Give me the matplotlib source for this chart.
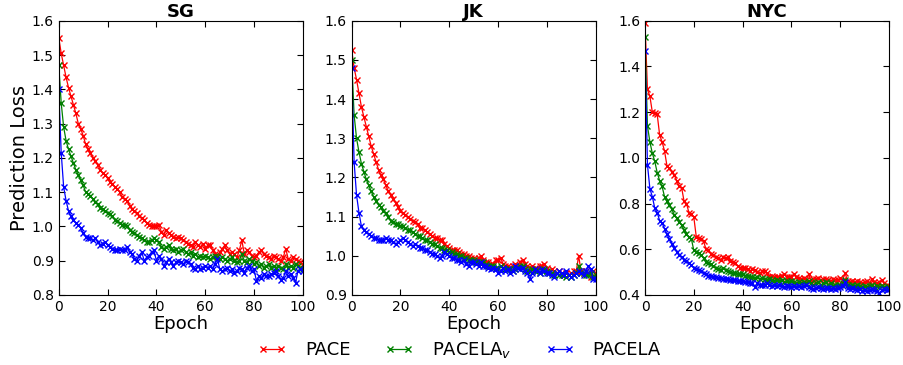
import matplotlib
matplotlib.use("Agg")
import matplotlib.pyplot as plt
import numpy as np

epochs = np.arange(101)

sg_pace = [1.55, 1.505, 1.47, 1.435, 1.405, 1.38, 1.355, 1.33, 1.30, 1.285,
           1.265, 1.24, 1.225, 1.215, 1.20, 1.19, 1.18, 1.165, 1.155, 1.15,
           1.14, 1.13, 1.125, 1.115, 1.11, 1.10, 1.085, 1.08, 1.075, 1.06,
           1.05, 1.045, 1.04, 1.03, 1.025, 1.02, 1.01, 1.005, 1.0, 1.0,
           1.0, 1.005, 0.985, 0.975, 0.99, 0.98, 0.975, 0.97, 0.965, 0.97,
           0.965, 0.96, 0.955, 0.95, 0.945, 0.94, 0.955, 0.945, 0.94, 0.95,
           0.935, 0.945, 0.945, 0.93, 0.92, 0.915, 0.925, 0.935, 0.945, 0.93,
           0.92, 0.925, 0.92, 0.91, 0.93, 0.96, 0.92, 0.93, 0.925, 0.915,
           0.91, 0.915, 0.925, 0.93, 0.92, 0.915, 0.91, 0.905, 0.915, 0.91,
           0.905, 0.90, 0.91, 0.935, 0.905, 0.90, 0.91, 0.905, 0.90, 0.895,
           0.89]
sg_pacela_v = [1.47, 1.36, 1.29, 1.25, 1.225, 1.205, 1.185, 1.165, 1.15, 1.135,
               1.12, 1.10, 1.095, 1.09, 1.08, 1.07, 1.065, 1.055, 1.05, 1.045,
               1.04, 1.035, 1.03, 1.02, 1.015, 1.01, 1.005, 1.005, 1.0, 0.99,
               0.985, 0.98, 0.975, 0.97, 0.965, 0.96, 0.955, 0.955, 0.96, 0.965,
               0.96, 0.955, 0.94, 0.935, 0.94, 0.945, 0.935, 0.93, 0.935, 0.925,
               0.93, 0.935, 0.925, 0.92, 0.925, 0.915, 0.92, 0.91, 0.915, 0.91,
               0.915, 0.91, 0.905, 0.91, 0.915, 0.91, 0.905, 0.91, 0.905, 0.90,
               0.905, 0.91, 0.90, 0.895, 0.90, 0.92, 0.90, 0.895, 0.905, 0.90,
               0.89, 0.895, 0.885, 0.89, 0.88, 0.885, 0.89, 0.88, 0.885, 0.88,
               0.885, 0.88, 0.875, 0.89, 0.88, 0.885, 0.88, 0.89, 0.885, 0.88,
               0.875]
sg_pacela = [1.40, 1.215, 1.115, 1.075, 1.045, 1.03, 1.02, 1.01, 1.005, 0.995,
             0.98, 0.97, 0.965, 0.965, 0.96, 0.965, 0.955, 0.945, 0.95, 0.955,
             0.945, 0.94, 0.935, 0.93, 0.93, 0.935, 0.93, 0.93, 0.94, 0.925,
             0.92, 0.905, 0.90, 0.915, 0.925, 0.90, 0.91, 0.915, 0.925, 0.93,
             0.90, 0.915, 0.905, 0.885, 0.895, 0.905, 0.895, 0.885, 0.895, 0.90,
             0.895, 0.89, 0.90, 0.895, 0.89, 0.88, 0.875, 0.885, 0.875, 0.88,
             0.885, 0.88, 0.885, 0.875, 0.89, 0.905, 0.875, 0.87, 0.875, 0.88,
             0.87, 0.875, 0.865, 0.87, 0.88, 0.875, 0.865, 0.88, 0.885, 0.87,
             0.875, 0.84, 0.855, 0.85, 0.86, 0.855, 0.855, 0.86, 0.865, 0.87,
             0.855, 0.845, 0.85, 0.87, 0.855, 0.86, 0.85, 0.835, 0.87, 0.875,
             0.87]

jk_pace = [1.525, 1.48, 1.45, 1.415, 1.38, 1.355, 1.33, 1.305, 1.28, 1.26,
           1.24, 1.22, 1.205, 1.195, 1.18, 1.165, 1.155, 1.145, 1.135, 1.125,
           1.115, 1.11, 1.105, 1.10, 1.095, 1.09, 1.085, 1.08, 1.07, 1.07,
           1.065, 1.06, 1.055, 1.05, 1.045, 1.045, 1.04, 1.04, 1.03, 1.025,
           1.02, 1.015, 1.015, 1.015, 1.01, 1.005, 1.005, 1.0, 1.0, 0.995,
           0.995, 0.99, 0.995, 1.0, 0.99, 0.985, 0.985, 0.98, 0.98, 0.99,
           0.99, 0.995, 0.98, 0.975, 0.975, 0.97, 0.975, 0.98, 0.975, 0.985,
           0.99, 0.98, 0.975, 0.97, 0.975, 0.97, 0.965, 0.975, 0.975, 0.98,
           0.97, 0.96, 0.965, 0.96, 0.955, 0.96, 0.955, 0.95, 0.955, 0.95,
           0.955, 0.96, 0.96, 1.0, 0.96, 0.955, 0.96, 0.955, 0.945, 0.96,
           0.955]
jk_pacela_v = [1.50, 1.36, 1.30, 1.265, 1.235, 1.215, 1.195, 1.18, 1.165, 1.15,
               1.14, 1.13, 1.125, 1.115, 1.11, 1.10, 1.09, 1.085, 1.08, 1.08,
               1.075, 1.075, 1.07, 1.065, 1.065, 1.06, 1.055, 1.05, 1.05, 1.045,
               1.04, 1.04, 1.035, 1.03, 1.03, 1.025, 1.02, 1.02, 1.015, 1.015,
               1.01, 1.01, 1.005, 1.005, 1.0, 1.0, 0.995, 0.995, 0.99, 0.99,
               0.99, 0.985, 0.985, 0.98, 0.985, 0.98, 0.975, 0.975, 0.975, 0.97,
               0.97, 0.975, 0.97, 0.965, 0.965, 0.965, 0.96, 0.965, 0.97, 0.975,
               0.975, 0.965, 0.96, 0.96, 0.965, 0.96, 0.96, 0.955, 0.96, 0.965,
               0.96, 0.955, 0.955, 0.95, 0.955, 0.95, 0.95, 0.95, 0.945, 0.95,
               0.945, 0.95, 0.955, 0.975, 0.955, 0.955, 0.95, 0.95, 0.955, 0.945,
               0.95]
jk_pacela = [1.48, 1.24, 1.155, 1.11, 1.075, 1.065, 1.06, 1.055, 1.05, 1.045,
             1.045, 1.04, 1.04, 1.04, 1.045, 1.04, 1.04, 1.035, 1.03, 1.035,
             1.04, 1.045, 1.04, 1.035, 1.03, 1.025, 1.03, 1.025, 1.02, 1.02,
             1.015, 1.015, 1.01, 1.005, 1.005, 1.0, 0.995, 1.0, 1.01, 1.005,
             1.0, 0.995, 0.995, 0.99, 0.99, 0.985, 0.99, 0.98, 0.975, 0.985,
             0.985, 0.98, 0.975, 0.985, 0.975, 0.975, 0.97, 0.965, 0.97, 0.965,
             0.955, 0.96, 0.97, 0.96, 0.965, 0.955, 0.96, 0.975, 0.97, 0.965,
             0.97, 0.96, 0.955, 0.94, 0.955, 0.965, 0.96, 0.955, 0.965, 0.96,
             0.955, 0.955, 0.95, 0.945, 0.955, 0.96, 0.955, 0.95, 0.96, 0.95,
             0.945, 0.95, 0.955, 0.96, 0.955, 0.95, 0.96, 0.975, 0.965, 0.94,
             0.94]

nyc_pace = [1.59, 1.30, 1.27, 1.20, 1.195, 1.19, 1.10, 1.07, 1.03, 0.965,
            0.955, 0.94, 0.925, 0.90, 0.875, 0.87, 0.81, 0.80, 0.76, 0.755,
            0.74, 0.655, 0.65, 0.645, 0.635, 0.60, 0.595, 0.58, 0.575, 0.565,
            0.56, 0.555, 0.565, 0.56, 0.565, 0.55, 0.545, 0.54, 0.525, 0.52,
            0.52, 0.52, 0.515, 0.505, 0.515, 0.51, 0.50, 0.495, 0.505, 0.505,
            0.495, 0.48, 0.485, 0.48, 0.48, 0.48, 0.485, 0.49, 0.48, 0.48,
            0.48, 0.49, 0.48, 0.475, 0.47, 0.475, 0.465, 0.49, 0.465, 0.47,
            0.47, 0.475, 0.465, 0.47, 0.47, 0.465, 0.46, 0.47, 0.465, 0.465,
            0.475, 0.465, 0.495, 0.46, 0.455, 0.46, 0.455, 0.46, 0.455, 0.45,
            0.455, 0.46, 0.45, 0.47, 0.455, 0.45, 0.455, 0.465, 0.45, 0.445,
            0.44]
nyc_pacela_v = [1.53, 1.14, 1.07, 1.02, 0.985, 0.935, 0.90, 0.875, 0.83, 0.81,
                0.795, 0.775, 0.75, 0.735, 0.72, 0.705, 0.685, 0.665, 0.655, 0.645,
                0.595, 0.59, 0.585, 0.575, 0.56, 0.545, 0.54, 0.535, 0.525, 0.52,
                0.515, 0.51, 0.52, 0.51, 0.505, 0.50, 0.495, 0.495, 0.49, 0.49,
                0.49, 0.485, 0.485, 0.48, 0.48, 0.475, 0.48, 0.47, 0.475, 0.47,
                0.465, 0.47, 0.465, 0.46, 0.465, 0.46, 0.465, 0.455, 0.46, 0.455,
                0.46, 0.455, 0.45, 0.455, 0.45, 0.455, 0.45, 0.46, 0.45, 0.445,
                0.45, 0.455, 0.445, 0.45, 0.455, 0.445, 0.45, 0.44, 0.445, 0.445,
                0.445, 0.45, 0.465, 0.445, 0.44, 0.445, 0.44, 0.445, 0.44, 0.435,
                0.44, 0.435, 0.44, 0.445, 0.435, 0.44, 0.435, 0.44, 0.435, 0.43,
                0.435]
nyc_pacela = [1.47, 0.97, 0.865, 0.83, 0.78, 0.76, 0.725, 0.715, 0.69, 0.665,
              0.645, 0.625, 0.605, 0.59, 0.575, 0.565, 0.555, 0.55, 0.54, 0.53,
              0.52, 0.515, 0.51, 0.505, 0.495, 0.49, 0.485, 0.485, 0.48, 0.48,
              0.475, 0.475, 0.47, 0.47, 0.47, 0.465, 0.465, 0.465, 0.46, 0.46,
              0.46, 0.455, 0.455, 0.45, 0.45, 0.435, 0.45, 0.445, 0.445, 0.445,
              0.45, 0.445, 0.44, 0.445, 0.44, 0.445, 0.44, 0.435, 0.44, 0.44,
              0.435, 0.44, 0.435, 0.44, 0.435, 0.44, 0.445, 0.435, 0.43, 0.425,
              0.43, 0.435, 0.43, 0.425, 0.43, 0.43, 0.425, 0.43, 0.425, 0.43,
              0.435, 0.44, 0.455, 0.43, 0.425, 0.43, 0.425, 0.42, 0.425, 0.415,
              0.42, 0.415, 0.42, 0.425, 0.42, 0.415, 0.41, 0.42, 0.425, 0.42,
              0.425]

titles = ["SG", "JK", "NYC"]
series = [(sg_pace, sg_pacela_v, sg_pacela),
          (jk_pace, jk_pacela_v, jk_pacela),
          (nyc_pace, nyc_pacela_v, nyc_pacela)]
ylims = [(0.8, 1.6), (0.9, 1.6), (0.4, 1.6)]
yticks = [np.arange(0.8, 1.61, 0.1), np.arange(0.9, 1.61, 0.1), np.arange(0.4, 1.61, 0.2)]
names = ["PACE", r"PACELA$_v$", "PACELA"]
colors = ["r", "g", "b"]

fig = plt.figure(figsize=(9.04, 3.65), dpi=100)
lefts = [0.065, 0.389, 0.7135]
lines = []
for i in range(3):
    ax = fig.add_axes([lefts[i], 0.192, 0.270, 0.751])
    lines = []
    for y, c, n in zip(series[i], colors, names):
        l, = ax.plot(epochs, y, color=c, marker="x", markersize=4, markeredgewidth=1,
                     linewidth=0.9, label=n)
        lines.append(l)
    ax.set_xlim(0, 100)
    ax.set_ylim(*ylims[i])
    ax.set_yticks(yticks[i])
    ax.set_xticks([0, 20, 40, 60, 80, 100])
    ax.tick_params(direction="in", top=True, right=True, labelsize=10, length=4)
    ax.set_title(titles[i], fontsize=13, fontweight="bold", pad=3)
    ax.set_xlabel("Epoch", fontsize=13, labelpad=1)
    if i == 0:
        ax.set_ylabel("Prediction Loss", fontsize=14, labelpad=2)

# shared legend under the three panels
fig.legend(lines, names, loc="center", bbox_to_anchor=(0.508, 0.04), ncol=3,
           frameon=False, numpoints=2, fontsize=13, handlelength=1.6,
           handletextpad=1.0, columnspacing=1.9)
fig.savefig("out.png", dpi=100)
